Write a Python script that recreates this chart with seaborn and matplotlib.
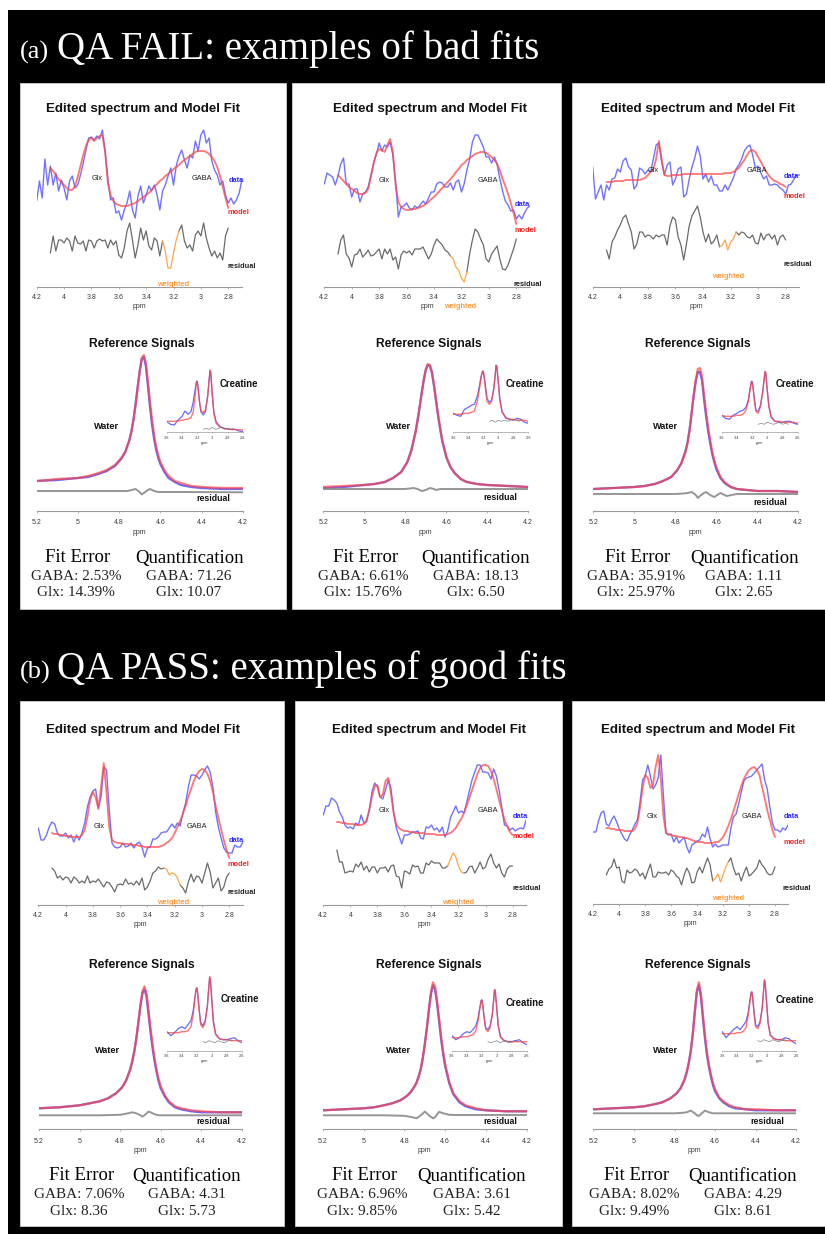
import numpy as np
import matplotlib
matplotlib.use("Agg")
import matplotlib.pyplot as plt
import seaborn as sns
from matplotlib.patches import Rectangle

# ---------------- data (heights in px above each axis line) -------------
ED_PPM = np.round(np.linspace(4.20, 2.70, 76), 2)     # sampling of the edited spectrum
FIT_PPM = np.round(np.linspace(4.10, 2.80, 66), 2)    # sampling of model / residual
WATER_PPM = [5.20, 5.10, 5.00, 4.95, 4.90, 4.86, 4.82, 4.79, 4.77, 4.75, 4.74, 4.73, 4.72, 4.71,
             4.70, 4.69, 4.68, 4.67, 4.66, 4.65, 4.64, 4.63, 4.62, 4.61, 4.60, 4.58, 4.56, 4.53,
             4.50, 4.45, 4.40, 4.30, 4.20]
WRES_PPM = [5.20, 4.90, 4.80, 4.76, 4.74, 4.72, 4.70, 4.69, 4.68, 4.66, 4.65, 4.63, 4.61, 4.58,
            4.55, 4.50, 4.20]
CR_PPM = [3.60, 3.55, 3.50, 3.45, 3.40, 3.36, 3.32, 3.28, 3.25, 3.23, 3.21, 3.20, 3.19, 3.17,
          3.15, 3.12, 3.09, 3.06, 3.04, 3.03, 3.02, 3.00, 2.98, 2.95, 2.90, 2.85, 2.80, 2.75,
          2.70, 2.65, 2.60]
CRRES_PPM = [3.12, 3.08, 3.04, 3.00, 2.96, 2.92, 2.88, 2.84, 2.80, 2.76, 2.72]

# panel 1 (QA FAIL)
P1_DATA = [86, 106, 89, 128, 102, 121, 102, 114, 96, 107, 99, 87, 106, 111, 99, 102, 112, 124, 137, 149,
           150, 147, 151, 148, 157, 136, 109, 87, 89, 74, 76, 67, 77, 84, 96, 77, 69, 91, 101, 84,
           92, 101, 96, 102, 92, 77, 96, 102, 111, 119, 102, 121, 131, 137, 127, 119, 132, 129, 146, 136,
           152, 157, 144, 149, 126, 117, 112, 102, 106, 92, 84, 89, 83, 87, 94, 107]
P1_MODEL = [119, 116, 112, 108, 105, 102, 99, 97, 97, 101, 110, 121, 132, 141, 147, 149, 146, 149, 151, 152,
            135, 104, 92, 86, 83, 82, 81, 81, 81, 82, 83, 84, 86, 88, 90, 92, 94, 97, 100, 103,
            106, 108, 111, 113, 115, 118, 120, 122, 125, 127, 129, 131, 133, 135, 136, 136, 136, 135, 133, 130,
            126, 120, 111, 100, 89, 79]
P1_RES = [34, 51, 36, 47, 47, 44, 49, 46, 36, 51, 44, 43, 46, 36, 47, 46, 39, 46, 48, 46,
          47, 39, 47, 42, 46, 32, 29, 39, 56, 64, 47, 29, 42, 59, 47, 56, 41, 37, 49, 46,
          31, 46, 36, 19, 19, 34, 47, 56, 62, 46, 39, 42, 36, 52, 56, 51, 64, 49, 39, 31,
          36, 29, 34, 27, 51, 59]
P1_WMODEL = [30, 32, 33, 35, 38, 41, 46, 53, 59, 71, 79, 91, 106, 123, 139, 153, 156, 148, 129, 109, 91, 76,
             64, 56, 49, 41, 35, 30, 28, 25, 24, 23, 23]
P1_WDATA = [30, 31, 33, 34, 37, 40, 45, 52, 59, 71, 80, 92, 107, 124, 140, 152, 154, 145, 125, 104, 86, 72,
            61, 53, 47, 39, 33, 29, 26, 24, 23, 22, 22]
P1_WRES = [20, 20, 20, 20, 21, 22, 19, 16.5, 18, 21, 22, 20, 19, 19, 19, 19, 18.7]
P1_CRDATA = [10.7, 8, 7.3, 12.3, 15.7, 21.3, 18, 20.7, 30.7, 40.7, 50.7, 51.3, 47.3, 32.3, 20.7, 17.3, 20.7,
             37.3, 54, 61.3, 59, 37.3, 20.7, 10.7, 5.7, 4, 3.3, 2.7, 3, 1.3, 0.7]
P1_CRMODEL = [11.3, 11, 11, 11.3, 12, 12.7, 13.3, 14.7, 20.7, 34, 49, 50.7, 45.7, 30.7, 21.3, 19.7, 22.3,
              35.7, 54, 62.3, 60, 37.3, 19, 9, 5.3, 4, 3.3, 3, 2.7, 2.7, 2.3]
P1_CRRES = [3, 4, 3, 5, 3, 4, 5, 3, 4, 3, 4]

# panel 2 (QA FAIL)
P2_DATA = [103, 114, 112, 110, 102, 111, 123, 129, 103, 103, 90, 98, 98, 85, 93, 95, 100, 112, 124, 133,
           144, 136, 142, 140, 145, 132, 105, 70, 80, 81, 84, 79, 77, 81, 79, 82, 86, 83, 89, 95,
           95, 103, 105, 104, 100, 100, 104, 97, 105, 107, 95, 103, 117, 128, 145, 152, 152, 146, 140, 130,
           130, 124, 130, 123, 108, 96, 86, 82, 76, 77, 68, 72, 68, 74, 79, 81]
P2_MODEL = [112, 109, 106, 103, 100, 98, 96, 94, 93, 93, 94, 98, 110, 124, 134, 138, 137, 135, 142, 148,
            135, 102, 85, 80, 78, 77, 77, 78, 78, 79, 80, 81, 83, 85, 88, 90, 93, 96, 99, 102,
            105, 108, 111, 115, 118, 122, 124, 127, 129, 131, 133, 134, 135, 135, 134, 132, 130, 127, 123, 117,
            108, 101, 93, 84, 74, 63]
P2_RES = [33, 47, 52, 33, 29, 20, 32, 33, 38, 30, 33, 37, 31, 32, 35, 38, 28, 38, 33, 38,
          27, 30, 18, 32, 36, 34, 36, 32, 38, 38, 38, 40, 34, 28, 33, 42, 48, 45, 42, 37,
          35, 31, 28, 20, 17, 9, 5, 15, 33, 47, 58, 55, 48, 42, 28, 25, 33, 37, 41, 28,
          18, 17, 22, 30, 38, 48]
P2_WMODEL = [24, 25, 26, 27, 29, 33, 39, 49, 61, 79, 91, 104, 118, 131, 142, 147, 146, 139, 126, 111, 96, 83,
             71, 63, 54, 44, 38, 32, 29, 27, 26, 25, 24]
P2_WDATA = [23, 24, 26, 27, 29, 33, 39, 49, 61, 79, 91, 104, 118, 131, 141, 146, 145, 138, 125, 110, 95, 82,
            70, 62, 54, 44, 38, 32, 29, 27, 26, 25, 24]
P2_WRES = [22, 22, 22, 23, 22, 20, 21, 22, 23, 22, 21, 22, 22, 22, 22, 22, 22]
P2_CRDATA = [19, 17, 16, 23, 25, 27, 28, 36, 47, 56, 61, 61, 57, 46, 34, 30, 32, 44, 59, 67, 66, 51, 34, 21,
             14, 13, 12, 14, 13, 10, 9]
P2_CRMODEL = [18, 18, 18, 19, 19, 20, 21, 31, 44, 54, 61, 60, 56, 42, 31, 28, 31, 43, 58, 67, 66, 49, 32, 20,
              15, 13, 13, 12, 12, 12, 11]
P2_CRRES = [11, 12, 10, 12, 11, 12, 11, 12, 13, 12, 11]

# panel 3 (QA FAIL)
P3_DATA = [120, 88, 95, 102, 87, 102, 97, 108, 109, 118, 115, 126, 129, 120, 117, 98, 102, 119, 117, 113,
           117, 115, 128, 142, 144, 125, 112, 122, 125, 102, 108, 118, 120, 90, 93, 108, 120, 129, 141, 131,
           108, 113, 105, 111, 102, 102, 96, 96, 102, 97, 103, 109, 118, 122, 128, 136, 140, 142, 132, 119,
           121, 114, 108, 111, 102, 102, 103, 102, 99, 97, 93, 102, 103, 108, 112, 112]
P3_MODEL = [105, 105, 105, 106, 106, 106, 106, 107, 107, 107, 107, 107, 107, 108, 109, 112, 115, 118, 128, 146,
            128, 112, 111, 111, 112, 112, 112, 112, 113, 113, 113, 113, 113, 113, 113, 113, 113, 113, 113, 113,
            113, 113, 113, 114, 114, 114, 115, 117, 119, 123, 127, 132, 136, 137, 135, 130, 125, 120, 115, 111,
            108, 106, 105, 103, 102, 100]
P3_RES = [37, 28, 45, 50, 57, 62, 69, 72, 63, 55, 38, 43, 55, 55, 50, 52, 51, 48, 52, 50,
          52, 52, 42, 61, 70, 67, 50, 42, 27, 43, 61, 71, 76, 81, 70, 55, 45, 53, 43, 46,
          52, 40, 42, 47, 37, 45, 48, 55, 52, 55, 54, 50, 49, 52, 44, 43, 54, 47, 52, 53,
          48, 52, 42, 50, 52, 47]
P3_WMODEL = [22, 23, 24, 25, 27, 30, 34, 41, 48, 59, 68, 81, 98, 116, 131, 142, 143, 135, 116, 99, 84, 71,
             59, 51, 44, 34, 29, 24, 22, 21, 20, 20, 19]
P3_WDATA = [22, 23, 24, 25, 27, 30, 34, 41, 48, 60, 69, 82, 99, 116, 130, 139, 139, 131, 112, 95, 80, 68,
            57, 49, 42, 33, 28, 24, 22, 21, 20, 20, 19]
P3_WRES = [17, 17, 17, 17.5, 18, 19, 16, 13, 15, 18, 19, 16, 14, 18, 15, 17, 17]
P3_CRDATA = [17, 14, 13, 17, 19, 21, 22, 25, 32, 42, 51, 51, 47, 34, 22, 21, 27, 41, 54, 60, 59, 42, 27, 16,
             11, 10, 10, 11, 11, 9, 8]
P3_CRMODEL = [17, 16, 16, 16, 17, 17, 18, 22, 31, 41, 50, 50, 46, 31, 21, 19, 26, 40, 54, 61, 59, 41, 26, 15,
              11, 11, 10, 10, 10, 10, 9]
P3_CRRES = [8, 9, 8, 10, 9, 8, 9, 10, 8, 9, 8]

# panel 4 (QA PASS)
P4_DATA = [77, 65, 65, 70, 78, 83, 81, 72, 69, 69, 72, 67, 70, 63, 70, 65, 72, 82, 98, 108,
           114, 116, 97, 108, 138, 135, 95, 62, 58, 57, 58, 62, 58, 59, 62, 57, 61, 63, 58, 48,
           57, 58, 66, 66, 68, 72, 73, 73, 77, 81, 77, 82, 79, 92, 102, 118, 130, 130, 129, 126,
           130, 135, 139, 133, 118, 93, 78, 67, 57, 53, 52, 52, 60, 58, 58, 63]
P4_MODEL = [72, 71, 71, 70, 70, 69, 69, 68, 68, 68, 68, 70, 75, 88, 105, 113, 108, 96, 118, 142,
            112, 78, 65, 63, 62, 62, 61, 61, 61, 60, 60, 60, 59, 59, 58, 58, 58, 58, 58, 58,
            59, 60, 62, 64, 67, 72, 78, 84, 91, 99, 108, 116, 124, 130, 134, 136, 135, 131, 124, 113,
            99, 87, 76, 65, 55, 47]
P4_RES = [37, 34, 27, 29, 25, 28, 27, 22, 28, 26, 22, 24, 22, 29, 22, 24, 23, 26, 22, 18,
          23, 22, 18, 13, 20, 21, 20, 26, 21, 22, 20, 24, 20, 27, 15, 18, 24, 32, 34, 38,
          36, 37, 36, 30, 32, 31, 27, 20, 17, 12, 23, 31, 23, 29, 28, 22, 32, 42, 33, 17,
          22, 27, 14, 18, 28, 32]
P4_WMODEL = [21, 22, 24, 26, 28, 31, 36, 42, 49, 60, 68, 78, 91, 107, 124, 138, 143, 136, 119, 101, 85, 71,
             59, 50, 43, 34, 28, 23, 21, 19, 18, 17, 17]
P4_WDATA = [21, 22, 24, 26, 28, 31, 36, 42, 49, 60, 68, 78, 91, 107, 123, 136, 140, 133, 115, 97, 81, 68,
            57, 48, 41, 33, 27, 22, 20, 18, 17, 17, 17]
P4_WRES = [14, 14, 14.5, 16, 17, 16, 14, 12.7, 14, 17.7, 17, 15, 14, 14, 14, 14, 14]
P4_CRDATA = [19, 15, 18, 22, 24, 22, 26, 30, 40, 52, 62, 63, 58, 42, 28, 25, 30, 45, 65, 73, 71, 50, 30, 17,
             12, 11, 11, 12, 13, 10, 8]
P4_CRMODEL = [18, 18, 18, 18, 19, 19, 20, 24, 36, 50, 62, 62, 57, 40, 26, 23, 28, 44, 64, 74, 71, 49, 28, 16,
              12, 11, 11, 10, 10, 10, 10]
P4_CRRES = [9, 8, 10, 9, 8, 10, 9, 8, 9, 11, 10]

# panel 5 (QA PASS)
P5_DATA = [90, 99, 99, 107, 105, 102, 93, 88, 80, 77, 78, 76, 82, 80, 90, 82, 83, 95, 113, 122,
           118, 108, 106, 115, 125, 117, 93, 77, 69, 61, 70, 70, 71, 73, 73, 74, 67, 66, 78, 77,
           80, 75, 77, 73, 78, 68, 74, 87, 93, 99, 92, 94, 92, 102, 114, 125, 133, 140, 140, 133,
           133, 132, 126, 136, 129, 115, 98, 80, 79, 75, 77, 74, 76, 77, 76, 85]
P5_MODEL = [83, 83, 82, 82, 81, 81, 81, 80, 80, 80, 81, 85, 95, 108, 119, 120, 108, 110, 124, 127,
            112, 92, 80, 77, 75, 74, 74, 73, 73, 72, 72, 72, 72, 71, 71, 71, 71, 70, 70, 70,
            70, 71, 72, 74, 77, 82, 86, 92, 99, 107, 115, 123, 131, 137, 140, 140, 139, 134, 126, 116,
            105, 95, 85, 79, 73, 70]
P5_RES = [55, 43, 43, 32, 33, 34, 33, 41, 38, 43, 35, 39, 33, 38, 38, 32, 37, 37, 38, 33,
          39, 40, 29, 28, 17, 34, 33, 31, 40, 38, 39, 32, 32, 42, 40, 44, 42, 42, 42, 37,
          37, 39, 46, 52, 48, 39, 33, 32, 33, 38, 39, 32, 37, 43, 36, 38, 46, 51, 42, 37,
          41, 32, 28, 36, 39, 39]
P5_WMODEL = [19, 20, 21, 22, 24, 26, 29, 33, 37, 43, 47, 53, 60, 71, 85, 101, 120, 137, 147, 143, 129, 111,
             93, 78, 65, 47, 36, 28, 24, 21, 19, 18, 18]
P5_WDATA = [19, 20, 21, 22, 24, 26, 29, 33, 37, 43, 47, 53, 60, 71, 85, 101, 119, 135, 144, 140, 126, 108,
            90, 75, 63, 46, 35, 27, 23, 20, 19, 18, 18]
P5_WRES = [14, 14, 13.5, 12, 11, 14, 17.7, 16, 14, 11, 12, 17.5, 16, 14.5, 14.3, 14.3, 14.3]
P5_CRDATA = [15, 11, 13, 17, 19, 18, 21, 25, 33, 42, 50, 51, 47, 34, 23, 21, 25, 37, 53, 61, 59, 42, 25, 14,
             10, 9, 9, 10, 11, 8, 6]
P5_CRMODEL = [13, 13, 13, 14, 14, 15, 16, 20, 30, 41, 50, 50, 46, 33, 22, 19, 23, 36, 52, 61, 59, 41, 24, 13,
              10, 9, 9, 9, 9, 9, 9]
P5_CRRES = [9, 8, 9, 10, 8, 9, 10, 8, 9, 10, 9]

# panel 6 (QA PASS)
P6_DATA = [72, 72, 83, 91, 93, 80, 78, 84, 88, 82, 75, 70, 65, 63, 69, 74, 80, 84, 102, 124,
           128, 139, 128, 115, 119, 126, 149, 109, 71, 69, 70, 62, 67, 61, 64, 67, 57, 51, 59, 61,
           63, 64, 70, 67, 77, 65, 57, 60, 57, 58, 59, 59, 59, 76, 87, 90, 100, 112, 123, 126,
           127, 128, 131, 134, 137, 140, 124, 115, 97, 81, 74, 74, 72, 76, 74, 79]
P6_MODEL = [76, 76, 75, 75, 74, 74, 74, 73, 73, 73, 73, 75, 81, 96, 116, 129, 126, 116, 119, 137,
            149, 125, 88, 71, 70, 69, 68, 68, 67, 67, 66, 66, 65, 64, 63, 62, 62, 62, 61, 61,
            61, 61, 62, 62, 64, 67, 72, 78, 85, 93, 101, 110, 118, 125, 130, 134, 136, 137, 134, 129,
            117, 106, 94, 84, 74, 67]
P6_RES = [29, 35, 37, 45, 36, 37, 23, 21, 34, 31, 32, 35, 33, 28, 31, 25, 33, 40, 27, 27,
          32, 31, 31, 32, 29, 34, 32, 28, 26, 19, 29, 36, 31, 21, 22, 32, 37, 31, 39, 46,
          39, 23, 26, 30, 22, 29, 37, 42, 46, 36, 29, 31, 23, 31, 37, 28, 30, 33, 36, 44,
          39, 36, 31, 29, 30, 37]
P6_WMODEL = [20, 21, 22, 23, 25, 27, 31, 36, 41, 50, 57, 66, 78, 95, 118, 139, 147, 136, 114, 94, 77, 64,
             54, 46, 40, 32, 28, 24, 22, 20, 20, 19, 19]
P6_WDATA = [20, 21, 22, 23, 25, 27, 31, 36, 41, 50, 57, 66, 78, 95, 117, 137, 144, 133, 111, 91, 74, 62,
            52, 44, 38, 31, 27, 23, 21, 20, 19, 19, 19]
P6_WRES = [16, 16, 16, 16.5, 17, 18.7, 16, 14, 13.3, 17, 18.7, 17, 16, 16, 16, 16, 16]
P6_CRDATA = [19, 13, 17, 21, 24, 21, 25, 29, 38, 49, 58, 59, 54, 39, 26, 24, 29, 43, 62, 70, 68, 48, 28, 16,
             12, 11, 11, 13, 12, 9, 7]
P6_CRMODEL = [17, 17, 17, 17, 18, 18, 19, 23, 35, 47, 58, 58, 53, 37, 24, 22, 27, 42, 61, 71, 68, 47, 27, 15,
              12, 11, 11, 10, 10, 10, 10]
P6_CRRES = [10, 9, 11, 10, 9, 11, 10, 9, 10, 11, 10]

WEIGHTED_RANGE = (3.28, 3.16)

SECTION_TITLES = ["QA FAIL: examples of bad fits", "QA PASS: examples of good fits"]
SECTION_TAGS = ["(a)", "(b)"]
FE_GABA = ["2.53%", "6.61%", "35.91%", "7.06%", "6.96%", "8.02%"]
FE_GLX = ["14.39%", "15.76%", "25.97%", "8.36", "9.85%", "9.49%"]
Q_GABA = ["71.26", "18.13", "1.11", "4.31", "3.61", "4.29"]
Q_GLX = ["10.07", "6.50", "2.65", "5.73", "5.42", "8.61"]

SPEC_TICKS = [4.2, 4.0, 3.8, 3.6, 3.4, 3.2, 3.0, 2.8]
SPEC_TICKLABELS = ["4.2", "4", "3.8", "3.6", "3.4", "3.2", "3", "2.8"]
REF_TICKS = [5.2, 5.0, 4.8, 4.6, 4.4, 4.2]
REF_TICKLABELS = ["5.2", "5", "4.8", "4.6", "4.4", "4.2"]
CR_TICKS = [3.6, 3.4, 3.2, 3.0, 2.8, 2.6]
CR_TICKLABELS = ["3.6", "3.4", "3.2", "3", "2.8", "2.6"]

# ---------------- layout (pixels) ----------------
W, H = 825, 1234
BOXES = [(20, 83, 286, 609), (292, 83, 561, 609), (572, 83, 825, 609),
         (20, 701, 284, 1226), (295, 701, 562, 1226), (572, 701, 825, 1226)]
SPEC_GEOM = [(36.7, 241.9, 287), (324.3, 530.0, 287), (592.7, 799.5, 287),
             (38.3, 242.9, 905), (323.3, 526.1, 905), (593.3, 788.0, 904)]
REF_GEOM = [(36.7, 242.7, 511), (323.3, 528.3, 511), (593.3, 798.3, 511),
            (39.0, 241.8, 1129.3), (322.9, 526.7, 1129.3), (593.4, 796.2, 1129.3)]
INSET_GEOM = [(166.7, 242.7, 432.3), (453.3, 528.3, 432.3), (721.7, 797.7, 432.3),
              (167.0, 241.8, 1050.7), (452.0, 526.7, 1050.7), (722.3, 796.2, 1050.7)]
SPEC_TITLE_POS = [(143, 109), (430, 109), (698, 109), (142.7, 730), (429.3, 730), (698.3, 730)]
REF_TITLE_POS = [(142, 344), (429.3, 344), (698.3, 344), (142.2, 965), (429.1, 965), (697.6, 965)]
WATER_POS = [(106.7, 426.7), (398.3, 426.7), (665.7, 426.7), (107.3, 1050.7), (398.3, 1050.7), (665.3, 1050.7)]
CREAT_POS = [(239.3, 384.3), (525, 384.3), (795, 384.3), (239.7, 999.3), (524.6, 1003.3), (795.2, 1000)]
RRES_POS = [(213.3, 498.3), (500.7, 497.7), (770, 502.7), (213.5, 1121.7), (500, 1121.7), (767, 1121.7)]
# spectrum labels in (ppm, height): Glx, GABA, data, model, residual, weighted
SPEC_LABELS = [
    [(3.757, 108), (2.995, 108), (2.744, 107), (2.727, 75), (2.70, 21), (3.20, 3)],
    [(3.763, 107), (3.01, 107), (2.754, 82), (2.73, 56), (2.713, 2), (3.21, -19)],
    [(3.76, 116), (3.01, 116), (2.757, 111), (2.737, 91), (2.713, 23), (3.216, 10)],
    [(3.755, 78), (3.04, 78), (2.75, 65), (2.735, 40), (2.71, 12), (3.21, 2)],
    [(3.749, 94), (2.985, 94), (2.746, 89), (2.72, 68), (2.696, 16), (3.20, 3)],
    [(3.745, 87), (2.975, 87), (2.677, 87), (2.65, 61), (2.63, 15), (3.16, 5)],
]
TEXT_POS = [  # (FitErr x, Quant x, values FE x, values Q x, header y, gaba y, glx y)
    (78, 190, 76, 189, 558, 577, 593),
    (366, 476, 363, 476, 558, 577, 593),
    (638, 745, 636, 744, 558, 577, 593),
    (81.6, 187, 79, 187, 1176, 1194.5, 1211.5),
    (365, 472, 362, 472, 1176, 1194.5, 1211.5),
    (637, 743, 634, 743, 1176, 1194.5, 1211.5),
]

SPEC = [(P1_DATA, P1_MODEL, P1_RES), (P2_DATA, P2_MODEL, P2_RES), (P3_DATA, P3_MODEL, P3_RES),
        (P4_DATA, P4_MODEL, P4_RES), (P5_DATA, P5_MODEL, P5_RES), (P6_DATA, P6_MODEL, P6_RES)]
REFS = [(P1_WDATA, P1_WMODEL, P1_WRES, P1_CRDATA, P1_CRMODEL, P1_CRRES),
        (P2_WDATA, P2_WMODEL, P2_WRES, P2_CRDATA, P2_CRMODEL, P2_CRRES),
        (P3_WDATA, P3_WMODEL, P3_WRES, P3_CRDATA, P3_CRMODEL, P3_CRRES),
        (P4_WDATA, P4_WMODEL, P4_WRES, P4_CRDATA, P4_CRMODEL, P4_CRRES),
        (P5_WDATA, P5_WMODEL, P5_WRES, P5_CRDATA, P5_CRMODEL, P5_CRRES),
        (P6_WDATA, P6_WMODEL, P6_WRES, P6_CRDATA, P6_CRMODEL, P6_CRRES)]

# ---------------- style ----------------
sns.set_theme(style="white")
plt.rcParams['font.family'] = ['Liberation Sans', 'DejaVu Sans']
SERIF = ['Liberation Serif', 'DejaVu Serif']
C_DATA, C_MODEL, C_RES, C_W = '#4f4fff', '#ff4545', '#505050', '#ffa040'

fig = plt.figure(figsize=(W / 100, H / 100), dpi=100)
fig.patch.set_facecolor('white')
bg = fig.add_axes([0, 0, 1, 1])
bg.set_xlim(0, W)
bg.set_ylim(H, 0)
bg.axis('off')
bg.add_patch(Rectangle((8, 10), W - 8, H - 10, facecolor='black', edgecolor='none'))
for (x0, y0, x1, y1) in BOXES:
    bg.add_patch(Rectangle((x0, y0), x1 - x0, y1 - y0, facecolor='white', edgecolor='#cfcfcf', lw=0.6))

for tag, title, base in zip(SECTION_TAGS, SECTION_TITLES, [59, 679]):
    bg.text(20, base, tag, color='white', family=SERIF, fontsize=19, ha='left', va='baseline')
    bg.text(57, base, title, color='white', family=SERIF, fontsize=28, ha='left', va='baseline')


def px_axes(x0, x1, ybot, height):
    ax = fig.add_axes([x0 / W, 1 - ybot / H, (x1 - x0) / W, height / H])
    ax.set_facecolor('none')
    return ax


def style_axis(ax, ticks, labels, fs, tlen, pad, lpad):
    for s in ['top', 'right', 'left']:
        ax.spines[s].set_visible(False)
    ax.spines['bottom'].set_color('#9a9a9a')
    ax.spines['bottom'].set_linewidth(0.8 if fs > 4 else 0.5)
    ax.set_yticks([])
    ax.set_xticks(ticks)
    ax.set_xticklabels(labels)
    ax.tick_params(axis='x', bottom=True, length=tlen, width=0.5, color='#9a9a9a',
                   labelsize=fs, pad=pad, labelcolor='#3a3a3a', direction='out')
    ax.set_xlabel('ppm', fontsize=fs, labelpad=lpad, color='#3a3a3a')
    ax.set_ylabel('')


def line(ax, x, y, color, lw, alpha=1.0):
    sns.lineplot(x=list(x), y=list(y), ax=ax, color=color, linewidth=lw, alpha=alpha,
                 sort=False, estimator=None, legend=False)


for i in range(6):
    data, model, res = SPEC[i]
    wdata, wmodel, wres, crdata, crmodel, crres = REFS[i]

    # ---- edited spectrum and model fit ----
    x0, x1, yb = SPEC_GEOM[i]
    ax = px_axes(x0, x1, yb, 170)
    line(ax, ED_PPM, data, C_DATA, 1.0, 0.8)
    line(ax, FIT_PPM, model, C_MODEL, 1.3, 0.75)
    res = np.array(res, dtype=float)
    hi, lo = WEIGHTED_RANGE
    m_left = FIT_PPM >= hi
    m_mid = (FIT_PPM <= hi) & (FIT_PPM >= lo)
    m_right = FIT_PPM <= lo
    line(ax, FIT_PPM[m_left], res[m_left], C_RES, 0.9, 0.85)
    line(ax, FIT_PPM[m_right], res[m_right], C_RES, 0.9, 0.85)
    line(ax, FIT_PPM[m_mid], res[m_mid], C_W, 0.9, 0.95)
    ax.set_xlim(4.2, 2.7)
    ax.set_ylim(0, 170)
    style_axis(ax, SPEC_TICKS, SPEC_TICKLABELS, 5, 1.6, 3.2, 1.5)
    lab = SPEC_LABELS[i]
    ax.text(*lab[0], 'Glx', fontsize=5.3, color='#222222', ha='center', va='center')
    ax.text(*lab[1], 'GABA', fontsize=5.3, color='#222222', ha='center', va='center')
    ax.text(*lab[2], 'data', fontsize=5.3, color='#2a2aff', ha='center', va='center', weight='bold')
    ax.text(*lab[3], 'model', fontsize=5.3, color='#ff2222', ha='center', va='center', weight='bold')
    ax.text(*lab[4], 'residual', fontsize=5.3, color='#222222', ha='center', va='center', weight='bold')
    ax.text(*lab[5], 'weighted', fontsize=5.3, color='#ff9a3c', ha='center', va='center', weight='bold')

    # ---- reference signals (water) ----
    x0, x1, yb = REF_GEOM[i]
    ar = px_axes(x0, x1, yb, 160)
    line(ar, WATER_PPM, wdata, C_DATA, 1.6, 0.85)
    line(ar, WATER_PPM, wmodel, C_MODEL, 1.6, 0.7)
    line(ar, WRES_PPM, wres, '#8a8a8a', 1.4, 0.9)
    ar.set_xlim(5.2, 4.2)
    ar.set_ylim(0, 160)
    style_axis(ar, REF_TICKS, REF_TICKLABELS, 5, 1.6, 4.5, 1.5)

    # ---- creatine inset ----
    x0, x1, yb = INSET_GEOM[i]
    ai = px_axes(x0, x1, yb, 80)
    line(ai, CR_PPM, crdata, C_DATA, 0.9, 0.85)
    line(ai, CR_PPM, crmodel, C_MODEL, 1.0, 0.75)
    line(ai, CRRES_PPM, crres, '#777777', 0.5, 0.9)
    ai.set_xlim(3.6, 2.6)
    ai.set_ylim(0, 80)
    style_axis(ai, CR_TICKS, CR_TICKLABELS, 2.8, 0.8, 1.8, 0.8)

    # ---- titles and labels ----
    bg.text(*SPEC_TITLE_POS[i], 'Edited spectrum and Model Fit', fontsize=9.6, weight='bold',
            color='#111111', ha='center', va='center')
    bg.text(*REF_TITLE_POS[i], 'Reference Signals', fontsize=8.7, weight='bold',
            color='#111111', ha='center', va='center')
    bg.text(*WATER_POS[i], 'Water', fontsize=6.6, weight='bold', color='#111111', ha='center', va='center')
    bg.text(*CREAT_POS[i], 'Creatine', fontsize=6.9, weight='bold', color='#111111', ha='center', va='center')
    bg.text(*RRES_POS[i], 'residual', fontsize=6.3, weight='bold', color='#111111', ha='center', va='center')

    fx, qx, vfx, vqx, hy, gy, ly = TEXT_POS[i]
    bg.text(fx, hy, 'Fit Error', family=SERIF, fontsize=13.5, color='black', ha='center', va='center')
    bg.text(qx, hy, 'Quantification', family=SERIF, fontsize=13.5, color='black', ha='center', va='center')
    bg.text(vfx, gy, 'GABA: ' + FE_GABA[i], family=SERIF, fontsize=11, color='#222222', ha='center', va='center')
    bg.text(vfx, ly, 'Glx: ' + FE_GLX[i], family=SERIF, fontsize=11, color='#222222', ha='center', va='center')
    bg.text(vqx, gy, 'GABA: ' + Q_GABA[i], family=SERIF, fontsize=11, color='#222222', ha='center', va='center')
    bg.text(vqx, ly, 'Glx: ' + Q_GLX[i], family=SERIF, fontsize=11, color='#222222', ha='center', va='center')

fig.savefig('out.png', dpi=100, facecolor=fig.get_facecolor())
